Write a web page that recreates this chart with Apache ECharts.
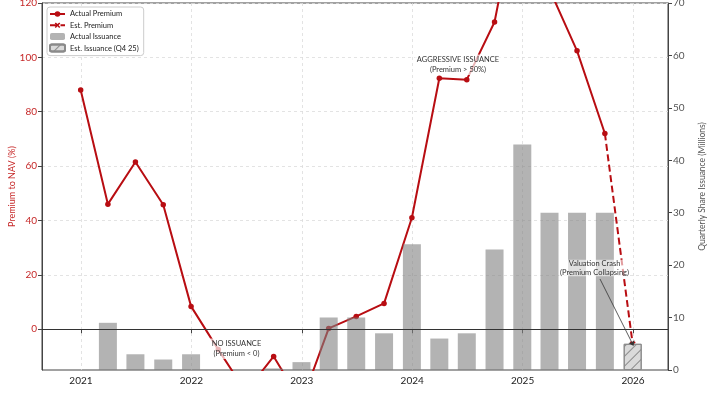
<!DOCTYPE html>
<html>
<head>
<meta charset="utf-8">
<script src="https://cdn.jsdelivr.net/npm/echarts@6/dist/echarts.min.js"></script>
<style>html,body{margin:0;padding:0;background:#fff;}#c{width:708px;height:395px;}</style>
</head>
<body>
<div id="c"></div>
<script>
// ---- data ----
const quarters = ['2020-12-31','2021-03-31','2021-06-30','2021-09-30','2021-12-31','2022-03-31','2022-06-30','2022-09-30','2022-12-31','2023-03-31','2023-06-30','2023-09-30','2023-12-31','2024-03-31','2024-06-30','2024-09-30','2024-12-31','2025-03-31','2025-06-30','2025-09-30'];
const premiumActual = [88, 46, 61.5, 45.8, 8.4, -7.5, -23, -10, -27, 0.3, 4.7, 9.5, 41, 92.3, 91.8, 113, 165, 125, 102.4, 72];
const issuanceActual = [null, 9, 3, 2, 3, null, null, 0.3, 1.5, 10, 10, 7, 24, 6, 7, 23, 43, 30, 30, 30];
const estQuarters = ['2025-09-30', '2025-12-31'];
const premiumEst = [72, -5.5];
const estIssuanceQuarters = ['2025-12-31'];
const issuanceEst = [5];
const yearTicks = [2021, 2022, 2023, 2024, 2025, 2026];
const premiumTicks = [0, 20, 40, 60, 80, 100, 120];

function toYear(s) {
  const d = Date.parse(s + 'T00:00:00Z');
  const y = new Date(d).getUTCFullYear();
  const a = Date.UTC(y, 0, 1), b = Date.UTC(y + 1, 0, 1);
  return y + (d - a) / (b - a);
}

const RED = '#b80d12';
const FONT = 'Lato, "DejaVu Sans", sans-serif';
const xPath = 'path://M2,0 L5,3 L8,0 L10,2 L7,5 L10,8 L8,10 L5,7 L2,10 L0,8 L3,5 L0,2 Z';

const chart = echarts.init(document.getElementById('c'), null, {renderer: 'canvas'});
const option = {
  animation: false,
  textStyle: {fontFamily: FONT},
  grid: {left: 42, right: 40, top: 3, bottom: 25, containLabel: false, outerBoundsMode: 'none',
    show: true, borderColor: '#444', borderWidth: 1, backgroundColor: 'transparent'},
  legend: {
    orient: 'vertical', left: 47, top: 7, padding: [3, 5, 3, 2],
    backgroundColor: '#fff', borderColor: '#ccc', borderWidth: 1, borderRadius: 3,
    itemWidth: 15, itemHeight: 7, itemGap: 3.2,
    textStyle: {fontSize: 7.5, color: '#222', fontFamily: FONT, lineHeight: 8},
    data: ['Actual Premium', 'Est. Premium', 'Actual Issuance', 'Est. Issuance (Q4 25)'],
    z: 20
  },
  xAxis: {
    type: 'value', min: 2020.647, max: 2026.317,
    axisLine: {show: true, lineStyle: {color: '#444'}},
    axisTick: {show: true, length: 4, lineStyle: {color: '#444'}, customValues: yearTicks},
    axisLabel: {customValues: yearTicks, formatter: v => String(v), fontSize: 10, color: '#222', margin: 6, fontFamily: FONT},
    splitLine: {show: true, lineStyle: {color: '#dcdcdc', type: [3, 3], width: 0.8}}
  },
  yAxis: [{
    type: 'value', min: -15, max: 120, position: 'left',
    name: 'Premium to NAV (%)', nameLocation: 'middle', nameGap: 25, nameRotate: 90, nameMoveOverlap: false,
    nameTextStyle: {color: '#c62828', fontSize: 9, fontFamily: FONT},
    axisLine: {show: true, lineStyle: {color: '#444'}},
    axisTick: {show: true, length: 4, lineStyle: {color: '#444'}, customValues: premiumTicks},
    axisLabel: {customValues: premiumTicks, fontSize: 10, color: '#c62828', margin: 5, fontFamily: FONT},
    splitLine: {show: true, lineStyle: {color: '#dcdcdc', type: [3, 3], width: 0.8}}
  }, {
    type: 'value', min: 0, max: 70, interval: 10, position: 'right',
    name: 'Quarterly Share Issuance (Millions)', nameLocation: 'middle', nameGap: 30, nameRotate: 90, nameMoveOverlap: false,
    nameTextStyle: {color: '#555', fontSize: 8.5, fontFamily: FONT},
    axisLine: {show: true, lineStyle: {color: '#444'}},
    axisTick: {show: true, length: 4, lineStyle: {color: '#444'}},
    axisLabel: {fontSize: 10, color: '#555', margin: 5, fontFamily: FONT},
    splitLine: {show: false}
  }],
  series: [{
    name: 'Actual Premium', type: 'line', yAxisIndex: 0, z: 2,
    data: quarters.map((q, i) => [toYear(q), premiumActual[i]]),
    symbol: 'circle', symbolSize: 5.5,
    lineStyle: {color: RED, width: 2}, itemStyle: {color: RED},
    markLine: {silent: true, symbol: 'none', label: {show: false},
      lineStyle: {color: '#333', width: 1, type: 'solid'}, data: [{yAxis: 0}]}
  }, {
    name: 'Est. Premium', type: 'line', yAxisIndex: 0, z: 2,
    data: estQuarters.map((q, i) => i === 0 ? {value: [toYear(q), premiumEst[i]], symbol: 'none'} : [toYear(q), premiumEst[i]]),
    symbol: xPath, symbolSize: 6,
    lineStyle: {color: RED, width: 2, type: [7, 3.5]}, itemStyle: {color: RED},
    markLine: {silent: true, symbol: ['none', 'arrow'], symbolSize: 5, label: {show: false},
      lineStyle: {color: '#333', width: 0.8, type: 'solid'},
      data: [[{x: 600, y: 279}, {coord: [toYear('2025-12-31'), premiumEst[1]], symbolOffset: [0, -2]}]]}
  }, {
    name: 'Actual Issuance', type: 'bar', yAxisIndex: 1, z: 3,
    data: quarters.map((q, i) => [toYear(q), issuanceActual[i] == null ? '-' : issuanceActual[i]]),
    barWidth: 18, barGap: '-100%',
    itemStyle: {color: 'rgba(128,128,128,0.6)'}
  }, {
    name: 'Est. Issuance (Q4 25)', type: 'bar', yAxisIndex: 1, z: 3,
    data: estIssuanceQuarters.map((q, i) => [toYear(q), issuanceEst[i]]),
    barWidth: 18, barGap: '-100%',
    itemStyle: {color: '#dadada', borderColor: '#8a8a8a', borderWidth: 1,
      decal: {symbol: 'rect', symbolSize: 1, dashArrayX: [1, 0], dashArrayY: [1, 6], rotation: -Math.PI / 4, color: '#8a8a8a'}}
  }],
  graphic: [
    {type: 'text', z: 50, style: {text: 'NO ISSUANCE\n(Premium < 0)', x: 236.5, y: 348.7, align: 'center', verticalAlign: 'middle',
      fontSize: 7.5, lineHeight: 9.3, fontFamily: FONT, fill: '#333', backgroundColor: 'rgba(255,255,255,0.7)', padding: [1, 2]}},
    {type: 'text', z: 50, style: {text: 'AGGRESSIVE ISSUANCE\n(Premium > 50%)', x: 458, y: 64.7, align: 'center', verticalAlign: 'middle',
      fontSize: 7.5, lineHeight: 9.3, fontFamily: FONT, fill: '#333', backgroundColor: 'rgba(255,255,255,0.7)', padding: [1, 2]}},
    {type: 'text', z: 50, style: {text: 'Valuation Crash\n(Premium Collapsing)', x: 594.5, y: 268, align: 'center', verticalAlign: 'middle',
      fontSize: 7.5, lineHeight: 8.3, fontFamily: FONT, fill: '#333', backgroundColor: 'rgba(255,255,255,0.6)', padding: [0, 1]}}
  ]
};
chart.setOption(option);
</script>
</body>
</html>
